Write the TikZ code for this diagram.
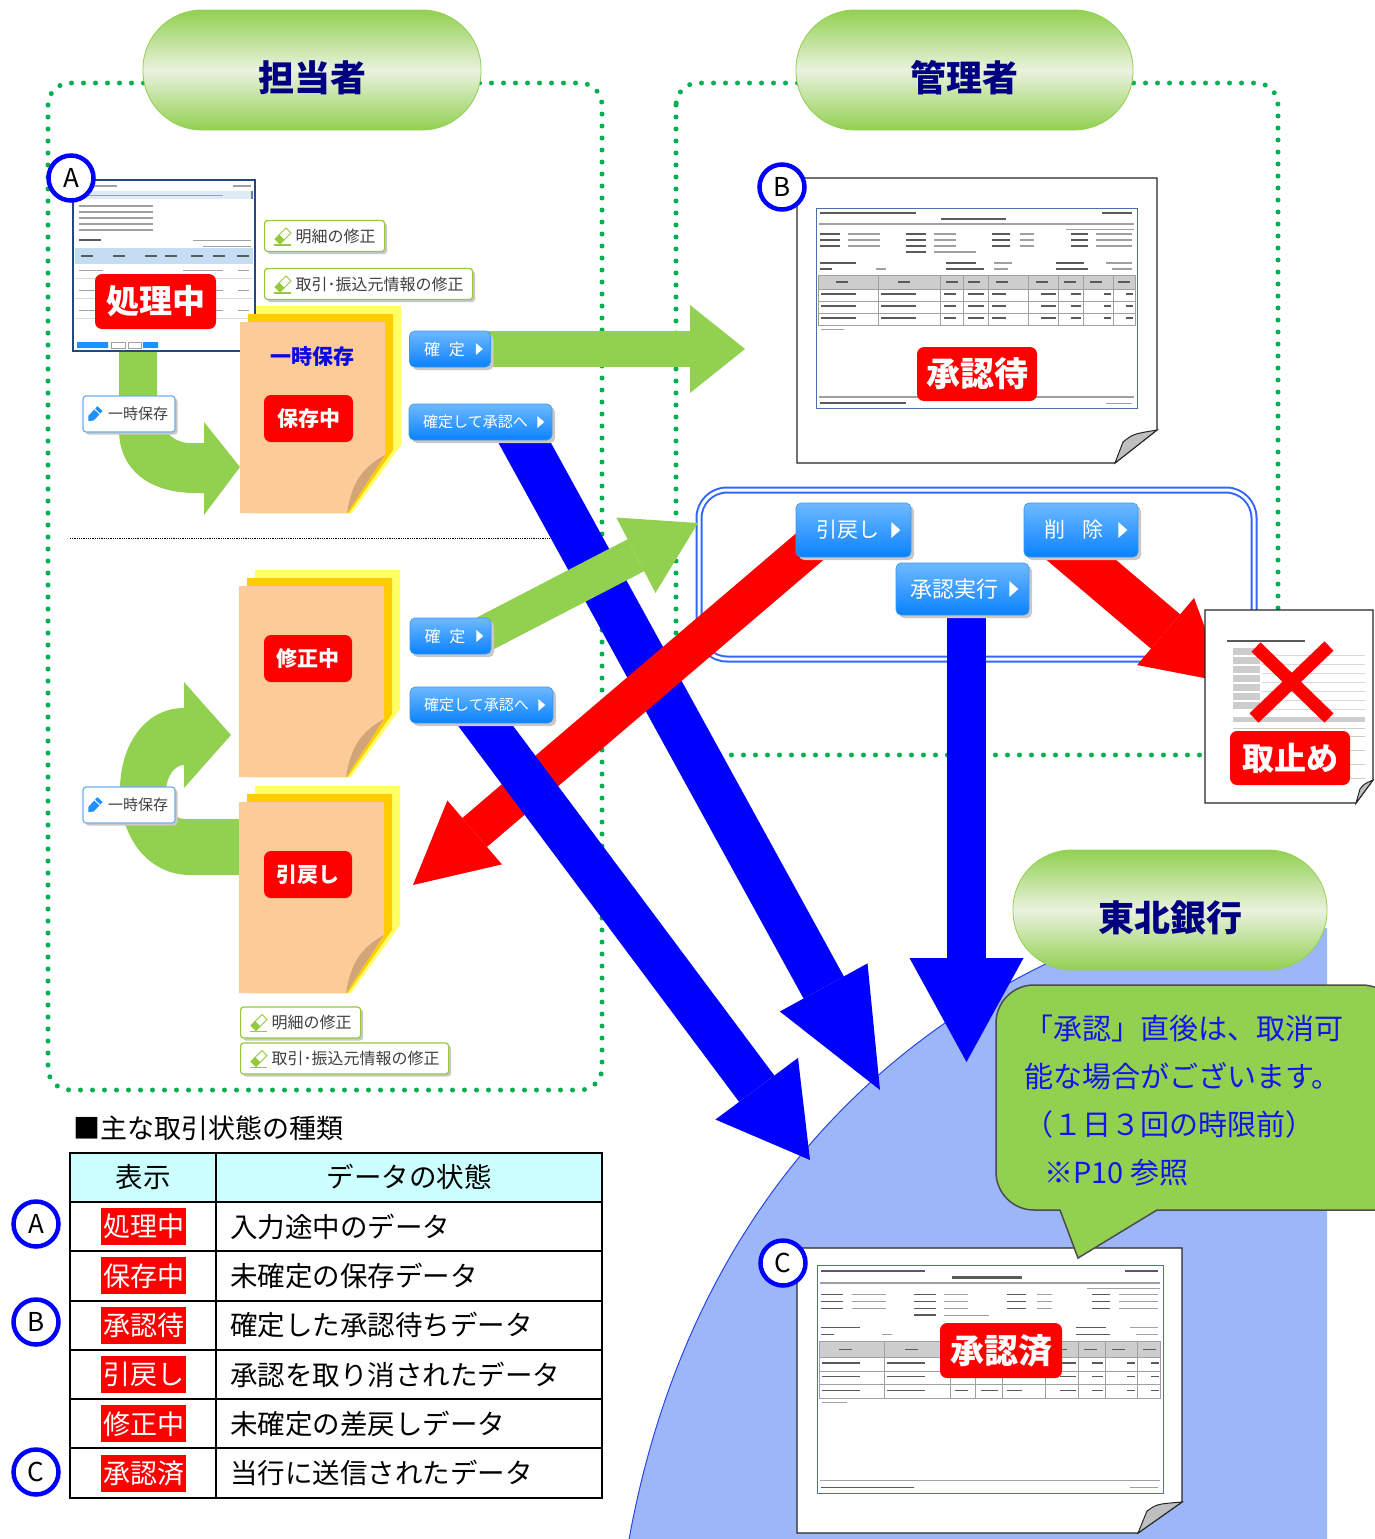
\documentclass[tikz,border=0pt]{standalone}
\usepackage{fontspec}
\setmainfont{Noto Sans CJK JP}
\usetikzlibrary{arrows.meta}
\usetikzlibrary{shadows}

\definecolor{dotgreen}{RGB}{0,176,80}
\definecolor{arrowgreen}{RGB}{146,208,80}
\definecolor{pillpale}{RGB}{234,242,222}
\definecolor{rolenavy}{RGB}{0,0,128}
\definecolor{bankblue}{RGB}{157,182,248}
\definecolor{arcblue}{RGB}{40,70,230}
\definecolor{boxblue}{RGB}{51,102,255}
\definecolor{flowblue}{RGB}{0,0,255}
\definecolor{tagred}{RGB}{255,0,0}
\definecolor{btntop}{RGB}{110,185,255}
\definecolor{btnbot}{RGB}{10,130,255}
\definecolor{btnedge}{RGB}{60,150,240}
\definecolor{btnshadow}{RGB}{200,200,200}
\definecolor{btntext}{RGB}{64,64,64}
\definecolor{framegreen}{RGB}{150,200,60}
\definecolor{savebtnedge}{RGB}{110,175,240}
\definecolor{pencilblue}{RGB}{30,144,255}
\definecolor{markblue}{RGB}{0,0,255}
\definecolor{padyellow}{RGB}{255,255,102}
\definecolor{padorange}{RGB}{255,204,0}
\definecolor{padpeach}{RGB}{252,203,152}
\definecolor{padfold}{RGB}{210,165,120}
\definecolor{padtitle}{RGB}{10,10,230}
\definecolor{notetext}{RGB}{20,20,235}
\definecolor{headcyan}{RGB}{204,255,255}
\definecolor{inkdark}{RGB}{90,90,90}
\definecolor{inkgray}{RGB}{160,160,160}
\definecolor{cellgray}{RGB}{205,205,205}
\definecolor{sheetblue}{RGB}{80,110,170}
\definecolor{shotnavy}{RGB}{36,71,127}
\definecolor{shotband}{RGB}{197,221,242}

\pgfdeclarelayer{back}
\pgfdeclarelayer{flow}
\pgfsetlayers{back,flow,main}

\tikzset{
  dotframe/.style={draw=dotgreen, line width=5pt, line cap=round, dash pattern=on 0pt off 12pt, rounded corners=22pt},
  rolepill/.style={draw=arrowgreen, line width=0.8pt, rounded corners=59pt, minimum height=120pt,
    top color=arrowgreen, bottom color=arrowgreen, middle color=pillpale,
    text=rolenavy, font=\bfseries\fontsize{36}{36}\selectfont, text height=46pt, text depth=4pt},
  approvebox/.style={draw=boxblue, double=white, double distance=3pt, line width=2pt, rounded corners=28pt,
    minimum width=555pt, minimum height=169pt},
  bluebtn/.style={rounded corners=5pt, draw=btnedge, line width=0.6pt, top color=btntop, bottom color=btnbot,
    text=white, inner sep=0pt, font=\fontsize{#1}{#1}\selectfont,
    drop shadow={shadow xshift=3pt, shadow yshift=-3pt, fill=btnshadow, opacity=1}},
  fixbtn/.style={anchor=west, rounded corners=3pt, draw=framegreen, line width=1.2pt, fill=white, text=btntext,
    font=\fontsize{16}{16}\selectfont, minimum height=31pt, inner xsep=9pt, inner ysep=0pt,
    drop shadow={shadow xshift=2.5pt, shadow yshift=-2.5pt, fill=btnshadow, opacity=1}},
  savebtn/.style={rounded corners=3pt, draw=savebtnedge, line width=1.2pt, fill=white, text=btntext,
    font=\fontsize{15}{15}\selectfont, minimum width=92pt, minimum height=36pt, inner sep=0pt,
    drop shadow={shadow xshift=2.5pt, shadow yshift=-2.5pt, fill=btnshadow, opacity=1}},
  redtag/.style={rounded corners=7pt, fill=tagred, text=white, font=\bfseries\fontsize{#1}{#1}\selectfont, inner sep=0pt},
  markcircle/.style={circle, draw=markblue, line width=4.5pt, fill=white, minimum size=45pt, inner sep=0pt,
    font=\fontsize{26}{26}\selectfont},
  celltag/.style={fill=tagred, text=white, font=\fontsize{27}{27}\selectfont, minimum width=85pt, minimum height=37pt, inner sep=0pt},
  celltext/.style={anchor=west, inner sep=0pt, font=\fontsize{27.5}{27.5}\selectfont},
  noteline/.style={anchor=base west, inner sep=0pt, text=notetext, font=\fontsize{29}{29}\selectfont},
  fat/.style n args={3}{line width=#1, -{Triangle[length=#2,width=#3,line width=0pt]}},
  % stacked memo pad, origin = top left of the front sheet
  notepad/.pic={
    \fill[padyellow] (16,-16) -- (161,-16) -- (161,123) -- (112,191) -- (16,191) -- cycle;
    \fill[padorange] (8,-8) -- (153,-8) -- (153,128) -- (109,191) -- (8,191) -- cycle;
    \fill[padpeach] (0,0) -- (145,0) -- (145,133) -- (107,191) -- (0,191) -- cycle;
    \fill[padfold] (107,191) .. controls (112,160) and (122,146) .. (145,133) -- cycle;
  },
  % printed form, 321 x 200
  ledger/.pic={
    \draw[sheetblue, fill=white, line width=1pt] (0,0) rectangle (321,200);
    \draw[inkdark, line width=2pt] (4,5) -- (100,5) (286,5) -- (316,5);
    \draw[inkdark, line width=2.2pt] (125,11) -- (190,11);
    \draw[inkgray, line width=1.6pt] (3,16) -- (318,16);
    \draw[inkgray, line width=1pt] (250,21) -- (318,21);
    \foreach \yy in {26,32,38} {
      \draw[inkdark, line width=1.5pt] (4,\yy) -- (24,\yy) (90,\yy) -- (110,\yy) (176,\yy) -- (194,\yy) (255,\yy) -- (272,\yy);
      \draw[inkgray, line width=1.2pt] (32,\yy) -- (64,\yy) (118,\yy) -- (140,\yy) (204,\yy) -- (218,\yy) (280,\yy) -- (316,\yy);
    }
    \draw[inkdark, line width=1.5pt] (90,44) -- (110,44);
    \draw[inkgray, line width=1.2pt] (118,44) -- (160,44);
    \draw[inkdark, line width=1.5pt] (4,55) -- (40,55) (4,61) -- (16,61) (130,55) -- (160,55) (130,61) -- (168,61) (240,55) -- (268,55) (240,61) -- (272,61);
    \draw[inkgray, line width=1.2pt] (60,61) -- (70,61) (178,55) -- (196,55) (178,61) -- (192,61) (290,55) -- (316,55) (296,61) -- (316,61);
    \fill[cellgray] (2,67) rectangle (319,81);
    \draw[inkgray, line width=0.8pt] (2,67) rectangle (319,117);
    \foreach \yy in {81,93,105} \draw[inkgray, line width=0.5pt] (2,\yy) -- (319,\yy);
    \foreach \xx in {62,124,147,172,212,242,267,297} \draw[inkgray, line width=0.5pt] (\xx,67) -- (\xx,117);
    \foreach \xx in {20,82,130,152,180,220,248,274,302} \draw[inkdark, line width=1.2pt] (\xx,74) -- ++(12,0);
    \foreach \yy in {86,98,110}
      \draw[inkdark, line width=1.2pt] (5,\yy) -- (40,\yy) (65,\yy) -- (100,\yy) (128,\yy) -- (140,\yy) (152,\yy) -- (168,\yy)
        (176,\yy) -- (190,\yy) (225,\yy) -- (240,\yy) (255,\yy) -- (265,\yy) (288,\yy) -- (295,\yy) (310,\yy) -- (317,\yy);
    \draw[inkgray, line width=1pt] (5,121) -- (28,121);
    \draw[inkgray, line width=1.8pt] (3,189) -- (318,189);
    \draw[inkdark, line width=1.2pt] (4,195) -- (90,195);
    \draw[inkgray, line width=1pt] (290,195) -- (316,195);
  },
  pencil/.pic={
    \fill[pencilblue] (-7,7) -- (-1.7,6.5) -- (7.2,-3) -- (2,-7.8) -- (-6.9,1.7) -- cycle;
    \draw[white, line width=1pt] (4.4,-0.1) -- (-0.7,-4.9);
  },
  eraser/.pic={
    \draw[framegreen, line width=1.5pt] (-9,9) -- (8,9);
    \filldraw[fill=framegreen, draw=framegreen, line width=1pt] (-8,3) -- (-3,8) -- (1,4) -- (-4,-1) -- cycle;
    \filldraw[fill=white, draw=framegreen, line width=1pt] (-4,-1) -- (1,4) -- (8,-3) -- (3,-8) -- cycle;
  },
}

\begin{document}
\begin{tikzpicture}[x=1pt,y=-1pt]
\useasboundingbox (0,0) rectangle (1375,1539);

\begin{pgfonlayer}{back}
% bank side
\fill[bankblue] (628,1545) .. controls (680,1250) and (850,1030) .. (1130,928) -- (1327,928) -- (1327,1545) -- cycle;
\draw[arcblue, line width=1pt] (628,1545) .. controls (680,1250) and (850,1030) .. (1130,928);
% user areas
\draw[dotframe] (48,83) rectangle (602,1090);
\draw[dotframe] (676,83) rectangle (1278,755);
\draw[densely dotted, line width=0.8pt] (70,538) -- (576,538);
\node[approvebox] (approveBox) at (976.5,574.5) {};
\end{pgfonlayer}

\node[rolepill, minimum width=338pt] (roleStaff) at (312,70) {担当者};
\node[rolepill, minimum width=337pt] (roleAdmin) at (964.5,70) {管理者};

% save loops
\fill[arrowgreen] (119,345) -- (119,430) .. controls (119,470) and (150,493) .. (195,493) -- (204,493) -- (204,515)
  -- (240,467) -- (204,422) -- (204,443) -- (190,443) .. controls (170,443) and (157,425) .. (157,400) -- (157,345) -- cycle;
\fill[arrowgreen] (245,819) -- (185,819) .. controls (172,819) and (166,806) .. (166,792) .. controls (166,776) and (175,765) .. (184,765)
  -- (184,788) -- (231,735) -- (184,682) -- (184,708) .. controls (145,708) and (120,745) .. (120,790)
  .. controls (120,840) and (150,875) .. (190,875) -- (245,875) -- cycle;

% entry screen
\begin{scope}[shift={(73,180)}]
\draw[shotnavy, fill=white, line width=2pt] (0,0) rectangle (182,171);
\draw[inkgray, line width=1.5pt] (14,6) -- (44,6) (160,6) -- (178,6);
\fill[shotband!60] (2,11) rectangle (178,19);
\draw[inkgray, line width=1pt] (6,15) -- (150,15);
\fill[shotnavy!70] (178,11) rectangle (180,19);
\foreach \yy in {26,32,38,44,50} \draw[inkgray, line width=1.2pt] (6,\yy) -- (80,\yy);
\draw[inkdark, line width=1.5pt] (6,60) -- (28,60);
\draw[inkgray, line width=1pt] (120,60) -- (178,60) (130,66) -- (178,66);
\fill[shotband] (2,68) rectangle (180,84);
\foreach \xx in {8,40,72,92,118,140,164} \draw[inkdark, line width=1.2pt] (\xx,76) -- ++(12,0);
\foreach \yy in {98,118,138} \draw[black!15, line width=0.6pt] (2,\yy) -- (180,\yy);
\foreach \yy in {90,110,130} \draw[inkgray, line width=1pt] (6,\yy) -- (30,\yy) (110,\yy) -- (150,\yy) (165,\yy) -- (176,\yy);
\fill[pencilblue] (4,162) rectangle (35,168) (70,162) rectangle (85,168);
\draw[inkgray, line width=0.6pt] (38,162) rectangle (52,168) (55,162) rectangle (68,168);
\end{scope}
\node[redtag=33, minimum width=121pt, minimum height=55pt] (tagWorking) at (155.5,301.5) {処理中};
\node[markcircle] (markA) at (71,178) {A};

% memo pads
\pic (padSave) at (240,322) {notepad};
\pic (padFix) at (239,586) {notepad};
\pic (padPull) at (239,802) {notepad};
\node[text=padtitle, font=\bfseries\fontsize{21}{21}\selectfont] (padTitle) at (312,357) {一時保存};
\node[redtag=21, minimum width=89pt, minimum height=47pt] (tagSaving) at (308.5,418.5) {保存中};
\node[redtag=21, minimum width=88pt, minimum height=47pt] (tagFixing) at (308,658.5) {修正中};
\node[redtag=21, minimum width=88pt, minimum height=47pt] (tagPulled) at (308,874.5) {引戻し};

% edit buttons
\node[fixbtn] (fixDetailA) at (264,236) {\hspace{22pt}明細の修正};
\node[fixbtn] (fixSourceA) at (264,284) {\hspace{22pt}取引･振込元情報の修正};
\node[fixbtn] (fixDetailB) at (240,1022.5) {\hspace{22pt}明細の修正};
\node[fixbtn] (fixSourceB) at (240,1058.5) {\hspace{22pt}取引･振込元情報の修正};
\foreach \b in {fixDetailA,fixSourceA,fixDetailB,fixSourceB}
  \pic at ([xshift=19pt]\b.west) {eraser};

\node[savebtn] (saveBtnA) at (129,414) {\hspace{18pt}一時保存};
\node[savebtn] (saveBtnB) at (129,805) {\hspace{18pt}一時保存};
\foreach \b in {saveBtnA,saveBtnB}
  \pic at ([xshift=13pt]\b.west) {pencil};

% action buttons
\node[bluebtn=16, minimum width=81pt, minimum height=36pt] (kakuteiA) at (450,349) {確\hspace{9pt}定\hspace*{11pt}};
\node[bluebtn=15, minimum width=143pt, minimum height=36pt] (sendA) at (480.5,422) {確定して承認へ\hspace*{10pt}};
\node[bluebtn=16, minimum width=81pt, minimum height=36pt] (kakuteiB) at (450.5,636) {確\hspace{9pt}定\hspace*{11pt}};
\node[bluebtn=15, minimum width=143pt, minimum height=36pt] (sendB) at (481.5,705) {確定して承認へ\hspace*{10pt}};
\foreach \b in {kakuteiA,sendA,kakuteiB,sendB}
  \fill[white] ([xshift=-15pt,yshift=6pt]\b.east) -- ++(0,12) -- ++(7,-6) -- cycle;

\node[bluebtn=21, minimum width=115pt, minimum height=54pt] (pullBtn) at (853.5,530) {引戻し\hspace*{12pt}};
\node[bluebtn=21, minimum width=114pt, minimum height=54pt] (deleteBtn) at (1081,530) {削\hspace{17pt}除\hspace*{15pt}};
\node[bluebtn=22, minimum width=133pt, minimum height=52pt] (execBtn) at (962.5,589) {承認実行\hspace*{17pt}};
\foreach \b in {pullBtn,deleteBtn,execBtn}
  \fill[white] ([xshift=-20pt,yshift=8pt]\b.east) -- ++(0,16) -- ++(9,-8) -- cycle;

% approval slip
\filldraw[fill=white, draw=black!85, line width=1.2pt] (797,178) -- (1157,178) -- (1157,430) -- (1115,463) -- (797,463) -- cycle;
\filldraw[fill=black!25, draw=black!85, line width=1pt] (1115,463) -- (1123,442) .. controls (1133,434) .. (1157,430) -- cycle;
\pic at (816,208) {ledger};
\node[redtag=34, minimum width=120pt, minimum height=54pt] (tagWaiting) at (977,374) {承認待};
\node[markcircle] (markB) at (782,187) {B};

% cancelled slip
\filldraw[fill=white, draw=black!85, line width=1.2pt] (1205,610) -- (1373,610) -- (1373,780) -- (1356,803) -- (1205,803) -- cycle;
\filldraw[fill=black!25, draw=black!85, line width=1pt] (1356,803) -- (1360,789) .. controls (1364,784) .. (1373,780) -- cycle;
\begin{scope}[shift={(1205,610)}]
\draw[inkdark, line width=1.2pt] (22,31) -- (100,31);
\foreach \yy in {38,47,56,65,74,83,92} {
  \fill[cellgray] (28,\yy) rectangle (55,\yy+7);
  \draw[black!15, line width=0.6pt] (57,\yy+7) -- (160,\yy+7);
}
\fill[cellgray] (28,107) rectangle (160,112);
\draw[black!20, line width=0.6pt] (28,118) -- (160,118);
\foreach \yy in {126,140,154,168} \draw[black!20, line width=0.6pt] (28,\yy) -- (160,\yy);
\end{scope}
\draw[tagred, line width=13pt] (1256,647) -- (1329,718) (1329,646) -- (1254,718);
\node[redtag=32, minimum width=120pt, minimum height=54pt] (tagCancel) at (1290,758) {取止め};

% bank
\node[rolepill, minimum width=314pt] (roleBank) at (1170,910) {東北銀行};
\filldraw[fill=white, draw=black!85, line width=1.2pt] (797,1248) -- (1182,1248) -- (1182,1502) -- (1138,1533) -- (797,1533) -- cycle;
\filldraw[fill=black!25, draw=black!85, line width=1pt] (1138,1533) -- (1147,1511) .. controls (1157,1504) .. (1182,1502) -- cycle;
\pic[xscale=1.078, yscale=1.14] at (817,1265) {ledger};
\node[redtag=34, minimum width=122pt, minimum height=55pt] (tagDone) at (1001,1350.5) {承認済};
\node[markcircle] (markC) at (783,1263) {C};

% note balloon
\filldraw[fill=arrowgreen, draw=black!70, line width=1.5pt] (1060,1210) [rounded corners=38pt] -- (996,1210) -- (996,985) -- (1400,985)
  [sharp corners] -- (1400,1210) -- (1157,1210) -- (1078,1258) -- cycle;
\node[noteline] (noteA) at (1024,1039) {「承認」直後は、取消可};
\node[noteline] (noteB) at (1024,1087) {能な場合がございます。};
\node[noteline] (noteC) at (1024,1135) {（１日３回の時限前）};
\node[noteline] (noteD) at (1024,1183) {\hspace{20pt}※P10 参照};

% status table
\node[anchor=west, inner sep=0pt, font=\fontsize{27}{27}\selectfont] (tableTitle) at (73,1128) {■主な取引状態の種類};
\fill[headcyan] (70,1153) rectangle (602,1202);
\foreach \yy in {1202,1251,1301,1350,1399,1448} \draw[line width=2pt] (70,\yy) -- (602,\yy);
\draw[line width=2pt] (216,1153) -- (216,1498);
\draw[line width=2.5pt] (70,1153) rectangle (602,1498);
\node[font=\fontsize{27.5}{27.5}\selectfont] (headShown) at (143,1177) {表示};
\node[font=\fontsize{27.5}{27.5}\selectfont] (headState) at (409,1177) {データの状態};
\foreach \st/\desc [count=\i] in {処理中/入力途中のデータ, 保存中/未確定の保存データ, 承認待/確定した承認待ちデータ,
    引戻し/承認を取り消されたデータ, 修正中/未確定の差戻しデータ, 承認済/当行に送信されたデータ} {
  \node[celltag] (cellTag\i) at (143.5,{1202+49.3*\i-24.65}) {\st};
  \node[celltext] (cellText\i) at (230,{1202+49.3*\i-24.65}) {\desc};
}
\node[markcircle] (rowMarkA) at (36,1224) {A};
\node[markcircle] (rowMarkB) at (36,1322) {B};
\node[markcircle] (rowMarkC) at (36,1472) {C};

% flows
\begin{pgfonlayer}{flow}
\coordinate (sendTipA) at (880,1090);
\coordinate (sendTipB) at (810,1160);
\coordinate (execTip) at (966.5,1062);
\coordinate (kakuteiTip) at (745,349);
\coordinate (pullTip) at (413,885);
\coordinate (deleteTip) at (1225,682);
\draw[fat={46pt}{117pt}{100pt}, draw=flowblue] ([xshift=34pt,yshift=16pt]sendA.south) -- (sendTipA);
\draw[fat={36pt}{70pt}{85pt}, draw=arrowgreen] ([xshift=-14pt,yshift=-1.5pt]kakuteiB.east) -- ([yshift=51.5pt]approveBox.west);
\draw[fat={36pt}{55pt}{88pt}, draw=arrowgreen] ([xshift=-6pt]kakuteiA.east) -- (kakuteiTip);
\draw[fat={38pt}{81pt}{84pt}, draw=tagred] ([xshift=21.5pt,yshift=17pt]pullBtn.south west) -- (pullTip);
\draw[fat={44pt}{89pt}{103pt}, draw=flowblue] ([xshift=-10.5pt,yshift=17pt]sendB.south) -- (sendTipB);
\draw[fat={39pt}{104pt}{114pt}, draw=flowblue] ([xshift=4pt,yshift=10pt]execBtn.south) -- (execTip);
\draw[fat={45pt}{78pt}{88pt}, draw=tagred] ([xshift=-28.7pt,yshift=22pt]deleteBtn.south) -- (deleteTip);
\end{pgfonlayer}

\end{tikzpicture}
\end{document}
